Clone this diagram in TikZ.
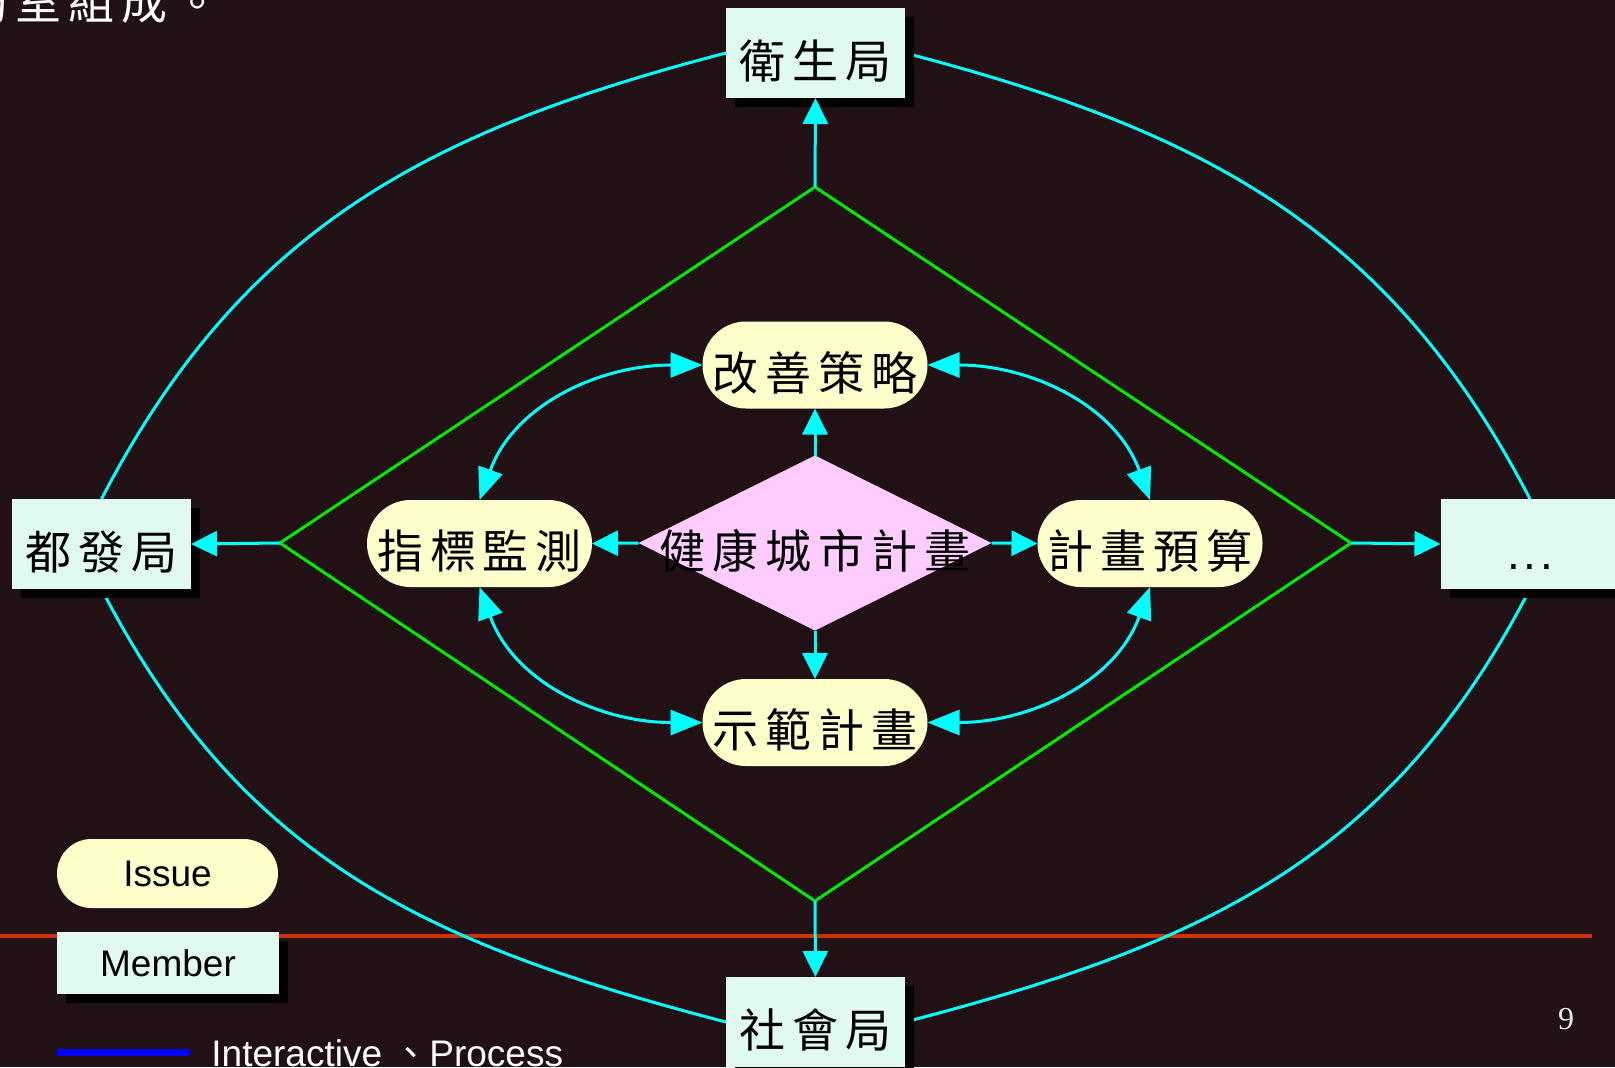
\documentclass[tikz,border=0pt]{standalone}
\usepackage{fontspec}
\setmainfont{Liberation Sans}
\newfontfamily\cjk[LetterSpace=15]{Noto Sans CJK TC}
\newfontfamily\cjkplain{Noto Sans CJK TC}
\newfontfamily\serifnum{Liberation Serif}
\usetikzlibrary{arrows.meta,shapes.geometric,shapes.misc,shadows}
\definecolor{bgc}{RGB}{34,17,20}
\definecolor{memfill}{RGB}{224,250,242}
\definecolor{issuefill}{RGB}{255,255,204}
\definecolor{pinkfill}{RGB}{255,204,255}
\definecolor{cyanc}{RGB}{0,255,255}
\definecolor{greenc}{RGB}{0,235,0}
\definecolor{redc}{RGB}{204,51,0}
\definecolor{bluec}{RGB}{0,0,255}
\definecolor{numc}{RGB}{230,230,230}
\pgfdeclarelayer{bg}
\pgfsetlayers{bg,main}
\begin{document}
\begin{tikzpicture}[x=0.5pt,y=-0.5pt,
  cjkfont/.style={font=\cjk\fontsize{23}{23}\selectfont},
  shadowed/.style={drop shadow={fill=black, opacity=1, shadow xshift=4.5pt, shadow yshift=-4.5pt}},
  member/.style={rectangle, fill=memfill, minimum width=89.5pt, minimum height=45pt, inner sep=0pt, outer sep=0pt, text=black, cjkfont, text height=25pt, text depth=0pt, shadowed},
  issue/.style={rounded rectangle, fill=issuefill, minimum width=112.5pt, minimum height=43.5pt, inner sep=0pt, outer sep=0pt, text=black, cjkfont, text height=25pt, text depth=0pt},
  legissue/.style={rounded rectangle, fill=issuefill, minimum width=110.5pt, minimum height=34.5pt, inner sep=0pt, outer sep=0pt, text=black, font=\fontsize{18.5}{18.5}\selectfont},
  legmember/.style={rectangle, fill=memfill, minimum width=111pt, minimum height=31pt, inner sep=0pt, outer sep=0pt, text=black, font=\fontsize{18.5}{18.5}\selectfont, shadowed},
  ctip/.tip={Triangle[length=13pt,width=12.5pt]},
  btip/.tip={Triangle[length=16pt,width=12.5pt]},
  conn/.style={draw=cyanc, line width=1.5pt, -{ctip}},
  dconn/.style={draw=cyanc, line width=1.5pt, {btip}-{btip}},
  ring/.style={draw=cyanc, line width=1.5pt},
  frame/.style={draw=greenc, line width=1.5pt, line join=miter}
]
\useasboundingbox (0,0) rectangle (1615,1067);
\clip (0,0) rectangle (1615,1067);
\begin{pgfonlayer}{bg}
  \fill[bgc] (0,0) rectangle (1615,1067);
  \coordinate (rl1) at (0,936);
  \coordinate (rl2) at (1592,936);
  \draw[redc, line width=1.75pt] (rl1) -- (rl2);
\end{pgfonlayer}

% top text (partly cut)
\node[anchor=base west, inner sep=0pt, text=white, cjkfont] (toptext) at (-38,19) {局室組成。};

% members
\node[member] (weisheng) at (815.5,53) {衛生局};
\node[member] (dufa) at (101.5,544) {都發局};
\node[member, font=\fontsize{23}{23}\selectfont] (dots) at (1530,544) {.\kern1.8pt.\kern1.8pt.};
\node[member] (shehui) at (815.5,1022) {社會局};

% issues
\node[issue] (gai) at (815,365) {改善策略};
\node[issue] (zhibiao) at (479.5,543.5) {指標監測};
\node[issue] (yusuan) at (1150,543.5) {計畫預算};
\node[issue] (shifan) at (815,722.5) {示範計畫};

% plan
\node[diamond, fill=pinkfill, minimum width=176.5pt, minimum height=87.5pt, inner sep=0pt, outer sep=0pt,
  label={[cjkfont, text=black, text height=25pt, text depth=0pt, inner sep=0pt]center:健康城市計畫}] (plan) at (815,543) {};

% green frame
\coordinate (gT) at (815,187);
\coordinate (gL) at (280,543);
\coordinate (gR) at (1351,543);
\coordinate (gB) at (815,901);
\draw[frame] (gT) -- (gR) -- (gB) -- (gL) -- cycle;

\draw[conn] (gT) -- (weisheng.south);
\draw[conn] (gL) -- (dufa.east);
\draw[conn] (gR) -- (dots.west);
\draw[conn] (gB) -- (shehui.north);

\draw[conn] (plan.north) -- (gai.south);
\draw[conn] (plan.south) -- (shifan.north);
\draw[conn] (plan.west) -- (zhibiao.east);
\draw[conn] (plan.east) -- (yusuan.west);

\draw[dconn] (gai.west) to[out=180,in=70] (zhibiao.north);
\draw[dconn] (zhibiao.south) to[out=-70,in=180] (shifan.west);
\draw[dconn] (gai.east) to[out=0,in=110] (yusuan.north);
\draw[dconn] (yusuan.south) to[out=-110,in=0] (shifan.east);

\begin{pgfonlayer}{bg}
  \draw[ring] (weisheng.west) .. controls +(-300,78) and +(140,-270) .. (dufa.north);
  \draw[ring] (dufa.south) .. controls +(140,270) and +(-300,-78) .. (shehui.west);
  \draw[ring] (weisheng.east) .. controls +(300,78) and +(-140,-270) .. (dots.north);
  \draw[ring] (dots.south) .. controls +(-140,270) and +(300,-78) .. (shehui.east);
\end{pgfonlayer}

% legend
\node[legissue] (legI) at (167.5,873.5) {Issue};
\node[legmember] (legM) at (168,963) {Member};
\coordinate (bl1) at (57,1052);
\coordinate (bl2) at (190,1052);
\draw[bluec, line width=3.5pt] (bl1) -- (bl2);
\node[anchor=base west, inner sep=0pt, text=white, font=\fontsize{18.5}{18.5}\selectfont] (legT) at (211,1066) {Interactive {\cjkplain 、}Process};

% page number
\node[anchor=base, inner sep=0pt, text=numc, font=\serifnum\fontsize{16}{16}\selectfont] (pnum) at (1566,1029) {9};
\end{tikzpicture}
\end{document}
